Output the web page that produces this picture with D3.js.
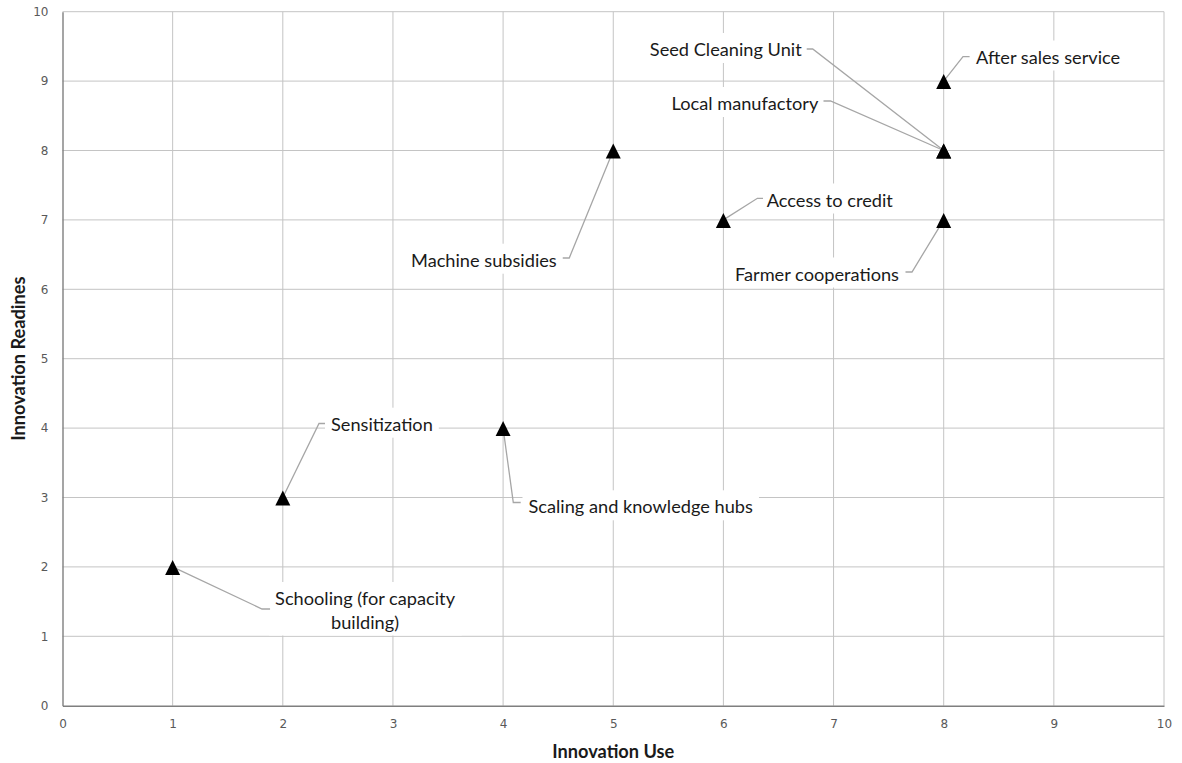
<!DOCTYPE html>
<html><head><meta charset="utf-8">
<script src="https://cdn.jsdelivr.net/npm/d3@7"></script>
<style>body{margin:0;background:#fff;} svg{display:block}</style>
</head><body><svg id="chart" width="1182" height="763"></svg>
<script>
// ---- data ----
const innovations = ["Schooling (for capacity building)", "Sensitization", "Scaling and knowledge hubs",
  "Machine subsidies", "Access to credit", "Seed Cleaning Unit", "Local manufactory",
  "After sales service", "Farmer cooperations"];
const innovationUse = [1, 2, 4, 5, 6, 8, 8, 8, 8];
const innovationReadiness = [2, 3, 4, 8, 7, 8, 8, 9, 7];
const xTickValues = [0, 1, 2, 3, 4, 5, 6, 7, 8, 9, 10];
const yTickValues = [0, 1, 2, 3, 4, 5, 6, 7, 8, 9, 10];
const xTitle = "Innovation Use";
const yTitle = "Innovation Readines";

// ---- label layout (pixel offsets from each point) ----
const labelLayout = [
  {lines: ["Schooling (for capacity", "building)"], elbow: [89.4, 42.1], stub: 97.4, tx: 192.4, base: 38.1, anchor: "middle"},
  {lines: ["Sensitization"], elbow: [36.2, -74], stub: 42.2, tx: 48.2, base: -66.8, anchor: "start"},
  {lines: ["Scaling and knowledge hubs"], elbow: [10.2, 74.4], stub: 17.6, tx: 25.4, base: 85.2, anchor: "start"},
  {lines: ["Machine subsidies"], elbow: [-44, 107.5], stub: -50.5, tx: -56.5, base: 116.2, anchor: "end"},
  {lines: ["Access to credit"], elbow: [34, -21.6], stub: 39.6, tx: 43.3, base: -13.4, anchor: "start"},
  {lines: ["Seed Cleaning Unit"], elbow: [-131, -101.5], stub: -137, tx: -142, base: -94.5, anchor: "end"},
  {lines: ["Local manufactory"], elbow: [-113.2, -49.5], stub: -120.2, tx: -125.4, base: -40.5, anchor: "end"},
  {lines: ["After sales service"], elbow: [19.3, -24.4], stub: 25.9, tx: 32.3, base: -17.6, anchor: "start"},
  {lines: ["Farmer cooperations"], elbow: [-31.7, 52.1], stub: -38.2, tx: -44.7, base: 60.6, anchor: "end"}
];

const W = 1182, H = 763;
const margin = {left: 62.5, right: 18, top: 11.7, bottom: 57.3};
const svg = d3.select("#chart");
const x = d3.scaleLinear().domain([0, 10]).range([margin.left, W - margin.right]);
const y = d3.scaleLinear().domain([0, 10]).range([H - margin.bottom, margin.top]);

const labelFont = "Lato, 'Open Sans', sans-serif";
const labelSize = 18.2;
const tickFont = "'DejaVu Sans', Verdana, sans-serif";

// gridlines
const grid = svg.append("g");
grid.selectAll("line.v").data(xTickValues.filter(d => d > 0)).enter().append("line")
  .attr("x1", d => x(d)).attr("x2", d => x(d)).attr("y1", y(0)).attr("y2", y(10))
  .attr("stroke", "#c4c4c4").attr("stroke-width", 1);
grid.selectAll("line.h").data(yTickValues.filter(d => d > 0)).enter().append("line")
  .attr("y1", d => y(d)).attr("y2", d => y(d)).attr("x1", x(0)).attr("x2", x(10))
  .attr("stroke", "#c4c4c4").attr("stroke-width", 1);

// axes
const xAxis = svg.append("g").attr("transform", `translate(0,${y(0)})`)
  .call(d3.axisBottom(x).tickValues(xTickValues).tickFormat(d3.format("d")).tickSize(0).tickPadding(14));
const yAxis = svg.append("g").attr("transform", `translate(${x(0)},0)`)
  .call(d3.axisLeft(y).tickValues(yTickValues).tickFormat(d3.format("d")).tickSize(0).tickPadding(14));
[xAxis, yAxis].forEach(a => {
  a.select(".domain").attr("stroke", "#7f7f7f").attr("stroke-width", 1.4);
  a.selectAll("text").attr("fill", "#595959").attr("font-family", tickFont).attr("font-size", 12);
});

// axis titles
svg.append("text").attr("x", (x(0) + x(10)) / 2).attr("y", 758).attr("text-anchor", "middle")
  .attr("font-family", labelFont).attr("font-weight", "bold").attr("font-size", 18.2).attr("fill", "#1a1a1a")
  .text(xTitle);
svg.append("text").attr("transform", `translate(25,${(y(0) + y(10)) / 2}) rotate(-90)`).attr("text-anchor", "middle")
  .attr("font-family", labelFont).attr("font-weight", "bold").attr("font-size", 18.2).attr("fill", "#1a1a1a")
  .text(yTitle);

// points
const pts = innovations.map((name, i) => ({name, px: x(innovationUse[i]), py: y(innovationReadiness[i]), lay: labelLayout[i]}));

const lg = svg.append("g");
const leaders = svg.append("g");
const marks = svg.append("g");
const texts = svg.append("g");

pts.forEach(p => {
  const L = p.lay;
  const t = texts.append("text").attr("font-family", labelFont).attr("font-size", labelSize)
    .attr("fill", "#1a1a1a").attr("text-anchor", L.anchor);
  L.lines.forEach((ln, k) => {
    t.append("tspan").attr("x", p.px + L.tx).attr("y", p.py + L.base + k * 23.5).text(ln);
  });
  const bb = t.node().getBBox();
  const top = p.py + L.base - 23;
  const bottom = p.py + L.base + (L.lines.length - 1) * 23.5 + 7;
  lg.append("rect").attr("x", bb.x - 6).attr("width", bb.width + 12)
    .attr("y", top).attr("height", bottom - top).attr("fill", "#fff");
  leaders.append("polyline")
    .attr("points", [[p.px, p.py], [p.px + L.elbow[0], p.py + L.elbow[1]], [p.px + L.stub, p.py + L.elbow[1]]].map(q => q.join(",")).join(" "))
    .attr("fill", "none").attr("stroke", "#a6a6a6").attr("stroke-width", 1.3);
});

marks.selectAll("path").data(pts).enter().append("path")
  .attr("d", p => `M${p.px},${p.py - 7}L${p.px + 7.5},${p.py + 8}L${p.px - 7.5},${p.py + 8}Z`)
  .attr("fill", "#000");
</script></body></html>
